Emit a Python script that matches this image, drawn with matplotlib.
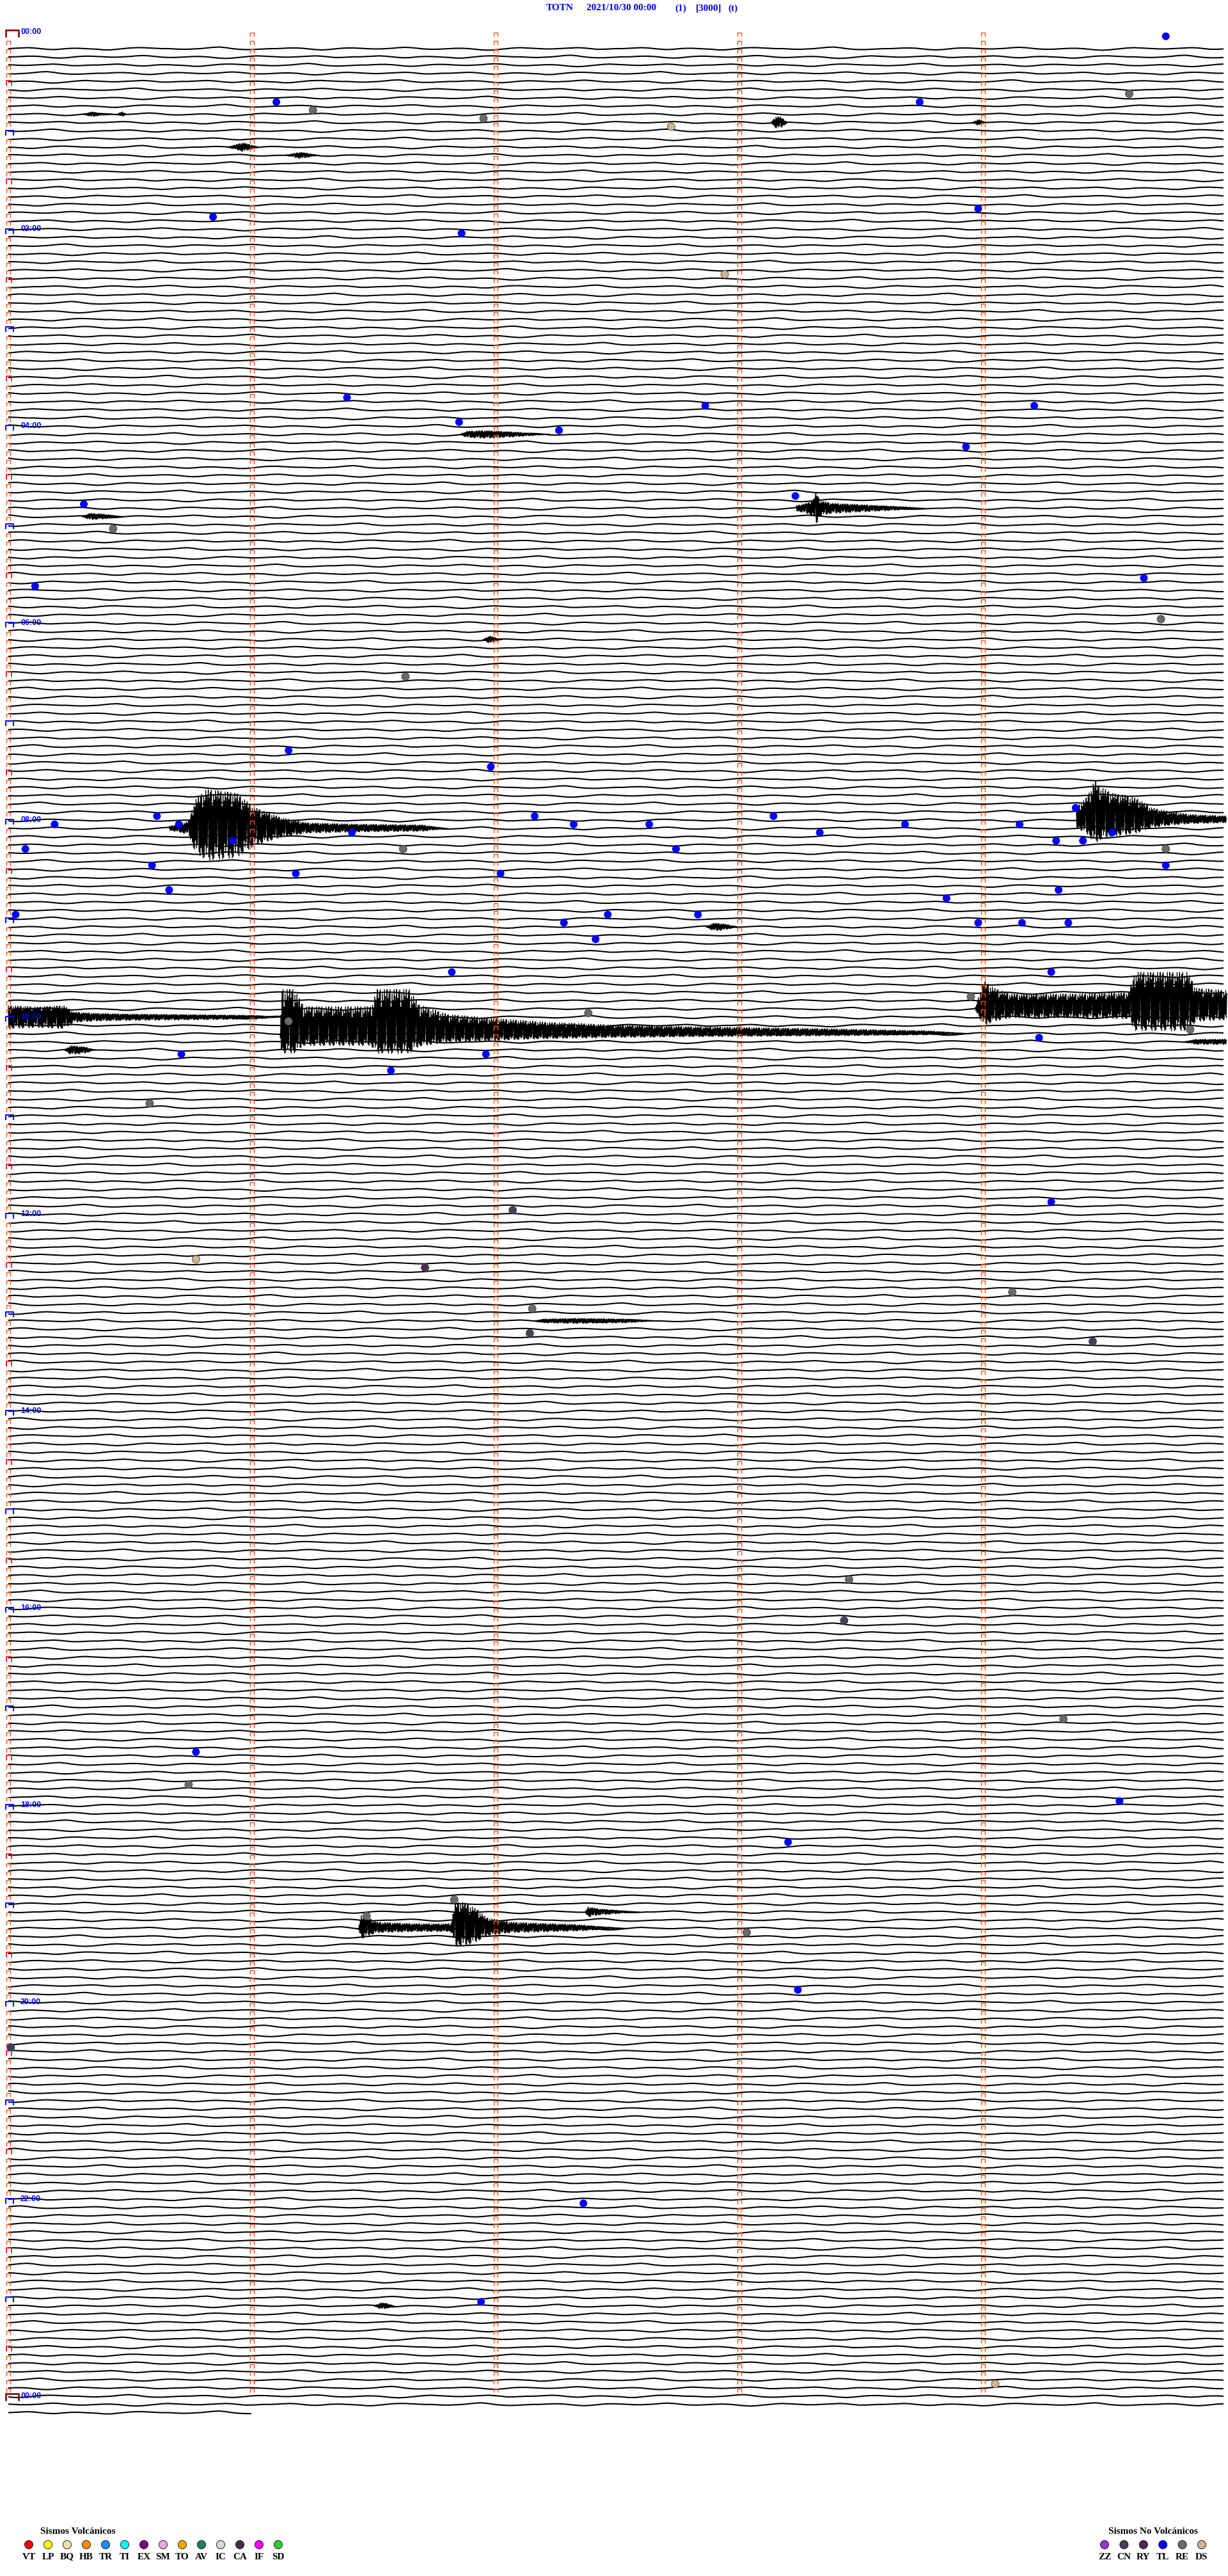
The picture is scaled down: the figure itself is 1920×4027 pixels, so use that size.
import numpy as np
import matplotlib
matplotlib.use('Agg')
import matplotlib.pyplot as plt
from matplotlib.path import Path
from matplotlib.collections import LineCollection

# helicorder TOTN, 5 minutes per trace line, line 0 starts at 00:10
title_parts = ['TOTN', '2021/10/30 00:00', '(1)', '[3000]', '(t)']
title_x = [854, 917, 1055, 1088, 1138]

hour_labels = ['00:00', '02:00', '04:00', '06:00', '08:00', '10:00', '12:00',
               '14:00', '16:00', '18:00', '20:00', '22:00', '00:00']
label_rows = [-2, 22, 46, 70, 94, 118, 142, 166, 190, 214, 238, 262, 286]
n_rows = 289
line_min = 5.0
last_row_min = 1.02

# background swell (px, one value every 10 px)
swell = [0, 0.5, 1, 1.5, 1, 0, -1, -1.5, -1, 0, 0.5, 0.5, 0, -0.5, -1, -2, -2, -1, 0, 1,
         1.5, 1.5, 1, 0.5, 0, 0, -0.5, -1, -1, -0.5, 0, 1, 2, 2.5, 1.5, 0, -1, -1.5, -1.5, -1,
         -0.5, 0, 0, 0.5, 1, 1, 0.5, -0.5, -1.5, -2, -1.5, -0.5, 0.5, 1, 1, 0.5, 0, -0.5, -0.5, 0,
         0.5, 1.5, 2, 1.5, 0.5, -0.5, -1, -1, -0.5, 0, 0.5, 0.5, 0, -1, -2, -2.5, -2, -1, 0, 1,
         1.5, 1, 0.5, 0, -0.5, -0.5, 0, 0.5, 1, 1.5, 1, 0, -1, -1, -0.5, 0]
# spike shape used inside the bursts
spikes = [1.0, -0.9, 0.8, -1.0, 0.95, -0.7, 1.0, -0.85, 0.6, -1.0, 0.9, -0.95, 0.75, -0.5,
          1.0, -0.8, 0.85, -0.6, 0.7]

# bursts: line, envelope key times (min), half amplitude (px), up/down skew
ev_row = [95, 94, 117, 118, 120, 122, 229, 227, 56, 9, 9, 8, 12, 13, 47, 57, 72, 107, 155, 275, 121]
ev_min = [
    [0.661, 0.740, 0.766, 0.814, 0.937, 1.008, 1.121, 1.226, 1.436, 1.698, 1.803],
    [4.383, 4.428, 4.459, 4.480, 4.533, 4.585, 4.638, 4.690, 4.769, 4.848, 5.0],
    [3.969, 4.003, 4.045, 4.113, 4.428, 4.598, 4.625, 4.840, 4.874, 5.0],
    [0.0, 0.123, 0.228, 0.268, 0.360, 0.491, 0.753, 1.016, 1.121],
    [1.115, 1.123, 1.173, 1.213, 1.488, 1.514, 1.646, 1.685, 1.803, 1.992, 2.197, 2.486, 2.853,
     3.378, 3.772, 3.955],
    [0.231, 0.255, 0.312, 0.360],
    [1.436, 1.451, 1.475, 1.514, 1.672, 1.816, 1.835, 1.869, 1.927, 1.961, 2.066, 2.328, 2.538],
    [2.367, 2.380, 2.420, 2.486, 2.591],
    [3.234, 3.286, 3.304, 3.315, 3.331, 3.378, 3.483, 3.588, 3.693, 3.759],
    [3.129, 3.150, 3.168, 3.199],
    [3.955, 3.982, 4.013],
    [0.307, 0.341, 0.373, 0.446, 0.465, 0.486],
    [0.898, 0.963, 1.029],
    [1.134, 1.199, 1.278],
    [1.853, 1.882, 1.961, 2.066, 2.223],
    [0.302, 0.333, 0.386, 0.470],
    [1.948, 1.974, 2.026],
    [2.864, 2.892, 2.932, 2.997],
    [2.155, 2.197, 2.328, 2.538, 2.661],
    [1.501, 1.528, 1.554, 1.583],
    [4.822, 4.874, 5.0],
]
ev_amp = [
    [3, 10, 40, 55, 50, 30, 15, 8, 6, 5, 0],
    [15, 28, 48, 40, 32, 30, 25, 15, 10, 7, 5],
    [2, 34, 25, 18, 18, 20, 44, 44, 25, 22],
    [18, 16, 18, 8, 6, 5, 4, 3, 0],
    [0, 46, 46, 28, 28, 46, 46, 30, 20, 16, 12, 9, 7, 5, 3, 0],
    [0, 7, 5, 0],
    [0, 20, 14, 8, 6, 6, 34, 34, 24, 14, 8, 5, 0],
    [0, 8, 5, 3, 0],
    [4, 9, 14, 26, 12, 8, 6, 4, 2, 0],
    [0, 9, 9, 0],
    [0, 5, 0],
    [0, 4, 2, 0, 4, 0],
    [0, 7, 0],
    [0, 5, 0],
    [0, 5, 6, 4, 0],
    [0, 5, 4, 0],
    [0, 6, 0],
    [0, 6, 5, 0],
    [0, 3, 4, 3, 0],
    [0, 5, 4, 0],
    [0, 4, 4],
]
ev_skew = [1.1, 1.3, 1.3, 1.0, 1.5, 1.0, 1.2, 1.0, 1.0, 1.0, 1.0, 1.0, 1.0, 1.0, 1.0, 1.0, 1.0,
           1.0, 1.0, 1.0, 1.0]

# classified events (dots)
dot_row = [-1.5, 6.5, 6.5, 7.5, 5.5, 8.5, 9.5, 20.5, 19.5, 22.5, 27.5, 42.5, 43.5, 43.5, 45.5,
           46.5, 48.5, 54.5, 55.5, 58.5, 65.5, 64.5, 69.5, 76.5, 85.5, 87.5, 94.5, 94.5, 93.5,
           93.5, 94.5, 94.5, 93.5, 95.5, 94.5, 94.5, 92.5, 95.5, 96.5, 95.5, 97.5, 97.5, 97.5,
           96.5, 96.5, 97.5, 99.5, 99.5, 100.5, 100.5, 102.5, 102.5, 103.5, 105.5, 105.5, 106.5,
           105.5, 106.5, 106.5, 106.5, 108.5, 112.5, 112.5, 117.5, 118.5, 115.5, 119.5, 120.5,
           122.5, 122.5, 124.5, 128.5, 141.5, 140.5, 147.5, 148.5, 151.5, 153.5, 156.5, 157.5,
           186.5, 191.5, 203.5, 207.5, 211.5, 213.5, 218.5, 225.5, 227.5, 229.5, 236.5, 243.5,
           262.5, 274.5, 284.5]
dot_min = [4.75, 1.10, 3.74, 1.25, 4.60, 1.95, 2.72, 0.84, 3.98, 1.86, 2.94, 1.39, 2.86, 4.21, 1.85,
           2.26, 3.93, 3.23, 0.31, 0.43, 0.11, 4.66, 4.73, 1.63, 1.15, 1.98, 0.19, 0.70, 0.61,
           2.16, 2.32, 2.63, 3.14, 3.33, 3.68, 4.15, 4.38, 4.53, 0.92, 1.41, 0.07, 1.62, 2.74,
           4.30, 4.41, 4.75, 4.75, 0.59, 1.18, 2.02, 0.66, 4.31, 3.85, 0.03, 2.46, 2.28,
           2.83, 3.98, 4.16, 4.35, 2.41, 4.28, 1.82, 2.38, 1.15, 3.95, 4.85, 4.23,
           0.71, 1.96, 1.57, 0.58, 2.07, 4.28, 0.77, 1.71, 4.12, 2.15, 2.14, 4.45,
           3.45, 3.43, 4.33, 0.77, 0.74, 4.56, 3.20, 1.83, 1.47, 3.03, 3.24, 0.01,
           2.36, 1.94, 4.05]
dot_type = ['TL', 'TL', 'TL', 'RE', 'RE', 'RE', 'DS', 'TL', 'TL', 'TL', 'DS', 'TL', 'TL', 'TL', 'TL',
            'TL', 'TL', 'TL', 'TL', 'RE', 'TL', 'TL', 'RE', 'RE', 'TL', 'TL', 'TL', 'TL', 'TL',
            'TL', 'TL', 'TL', 'TL', 'TL', 'TL', 'TL', 'TL', 'TL', 'TL', 'TL', 'TL', 'RE', 'TL',
            'TL', 'TL', 'RE', 'TL', 'TL', 'TL', 'TL', 'TL', 'TL', 'TL', 'TL', 'TL', 'TL',
            'TL', 'TL', 'TL', 'TL', 'TL', 'TL', 'TL', 'RE', 'RE', 'RE', 'RE', 'TL',
            'TL', 'TL', 'TL', 'RE', 'CN', 'TL', 'DS', 'RY', 'RE', 'RE', 'CN', 'CN',
            'RE', 'CN', 'RE', 'TL', 'RE', 'TL', 'TL', 'RE', 'RE', 'RE', 'TL', 'CN',
            'TL', 'TL', 'DS']

vol_codes = ['VT', 'LP', 'BQ', 'HB', 'TR', 'TI', 'EX', 'SM', 'TO', 'AV', 'IC', 'CA', 'IF', 'SD']
vol_colors = ['#ff0000', '#ffff00', '#f0e2a8', '#ff8c00', '#1e8cff', '#00ffff', '#800080',
              '#e6a8e6', '#ffa500', '#1f7f5f', '#d8d8d8', '#4a2a4a', '#ff00ff', '#32cd32']
nov_codes = ['ZZ', 'CN', 'RY', 'TL', 'RE', 'DS']
nov_colors = ['#9933cc', '#4a3d5c', '#4e2a50', '#0000ff', '#6a6a6a', '#d2b48c']

W, H = 1920, 4027
px_min = 381.0     # px per minute
px_row = 12.832    # px per trace line
x0, y0 = 13, 76

fig = plt.figure(figsize=(W / 100, H / 100), dpi=100)
ax = fig.add_axes([0, 0, 1, 1])
ax.set_xlim(-x0 / px_min, (W - x0) / px_min)
ax.set_ylim((H - y0) / px_row, -y0 / px_row)
ax.axis('off')

# background traces
xs = np.arange(0, line_min + 1e-9, 10 / px_min)
sw = np.array(swell) / px_row
segs = []
for r in range(n_rows):
    k = (r * 41) % len(sw)
    vals = np.resize(np.roll(sw, -k), len(xs))
    x = xs
    if r == n_rows - 1:
        keep = xs <= last_row_min
        x, vals = xs[keep], vals[keep]
    segs.append(np.column_stack([x, r - vals]))
ax.add_collection(LineCollection(segs, colors='black', linewidths=1.5))

# bursts
for r, xm, am, sk in zip(ev_row, ev_min, ev_amp, ev_skew):
    x = np.arange(xm[0], xm[-1], 0.8 / px_min)
    env = np.interp(x, xm, am)
    c = np.resize(np.array(spikes), len(x))
    v = env * np.where(c > 0, c * sk, c / sk)
    ax.plot(x, r - v / px_row, color='black', lw=1.0)

# minute marks
tick = Path([(-1, -1), (-1, 1), (1, 1), (1, -1)],
            [Path.MOVETO, Path.LINETO, Path.LINETO, Path.LINETO])
tick_b = Path([(-1, -0.75), (-1, 0.75), (1, 0.75), (1, -0.75)],
              [Path.MOVETO, Path.LINETO, Path.LINETO, Path.LINETO])
tick_w = Path([(-1, -0.55), (-1, 0.55), (1, 0.55), (1, -0.55)],
              [Path.MOVETO, Path.LINETO, Path.LINETO, Path.LINETO])

rows = np.arange(-2, 286)
for col in [1, 2, 3, 4]:
    ax.plot(np.full(len(rows), col), rows + 0.31, ls='none', marker=tick, ms=4.3,
            mfc='none', mec='#ff5014', mew=1.0)

left = np.arange(-1, 286)
plain = left[(left % 12 != 4) & (left % 12 != 10)]
half = left[left % 12 == 4]
hour = left[left % 12 == 10]
ax.plot(np.zeros(len(plain)), plain + 0.31, ls='none', marker=tick, ms=4.3,
        mfc='none', mec='#ff5014', mew=1.0)
ax.plot(np.full(len(half), 0.003), half + 0.22, ls='none', marker=tick, ms=5.8,
        mfc='none', mec='#ff0000', mew=1.2)
ax.plot(np.full(len(hour), 0.005), hour + 0.25, ls='none', marker=tick_b, ms=8.6,
        mfc='none', mec='#0000ff', mew=1.4)
ax.plot([0.016, 0.016], [-2 + 0.1, 286 + 0.1], ls='none', marker=tick_w, ms=14.4,
        mfc='none', mec='#8b1010', mew=2.0)

for lab, r in zip(hour_labels, label_rows):
    ax.text(0.05, r, lab, color='#0000ff', fontsize=9, fontweight='bold',
            family='Liberation Sans', ha='left', va='center')

# event dots
col_of = dict(zip(nov_codes, nov_colors))
ax.scatter(dot_min, dot_row, s=75, c=[col_of[t] for t in dot_type],
           edgecolors=['none' if t == 'TL' else '#444444' for t in dot_type],
           linewidths=0.6, zorder=5)

# title and legends
lay = fig.add_axes([0, 0, 1, 1])
lay.set_xlim(0, W)
lay.set_ylim(H, 0)
lay.axis('off')

for txt, tx in zip(title_parts, title_x):
    lay.text(tx, 13, txt, color='#0000ee', fontsize=11, fontweight='bold',
             family='Liberation Serif', ha='left', va='center')

lay.text(63, 3957, 'Sismos Volcánicos', fontsize=11, fontweight='bold',
         family='Liberation Serif', ha='left', va='center')
vx = 45 + 30 * np.arange(len(vol_codes))
lay.scatter(vx, np.full(len(vx), 3978), s=88, c=vol_colors, edgecolors='black', linewidths=0.6)
for x, code in zip(vx, vol_codes):
    lay.text(x, 3997, code, fontsize=11, fontweight='bold', family='Liberation Serif',
             ha='center', va='center')

lay.text(1733, 3957, 'Sismos No Volcánicos', fontsize=11, fontweight='bold',
         family='Liberation Serif', ha='left', va='center')
nx = 1727 + 30.4 * np.arange(len(nov_codes))
lay.scatter(nx, np.full(len(nx), 3978), s=88, c=nov_colors, edgecolors='black', linewidths=0.6)
for x, code in zip(nx, nov_codes):
    lay.text(x, 3997, code, fontsize=11, fontweight='bold', family='Liberation Serif',
             ha='center', va='center')

fig.savefig('out.png', dpi=100)
